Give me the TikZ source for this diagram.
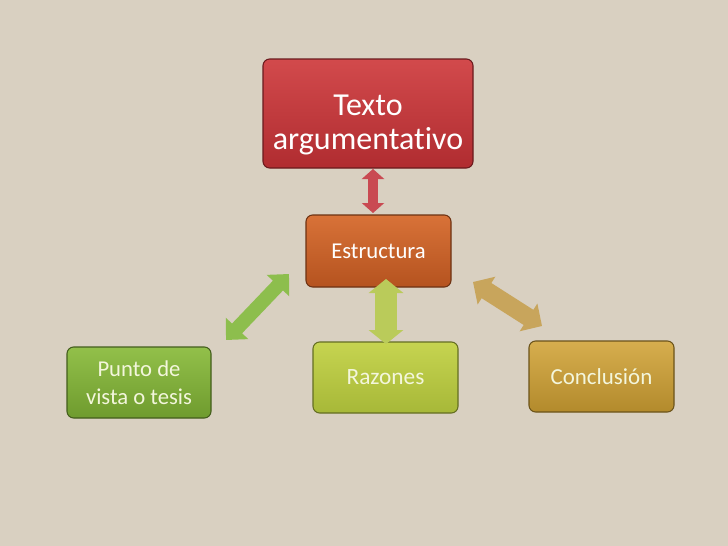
\documentclass[tikz,border=0pt]{standalone}
\usepackage{fontspec}
\setmainfont{Carlito}[Ligatures=NoCommon]
\usetikzlibrary{arrows.meta}
\definecolor{bg}{HTML}{D9D0C1}
\definecolor{redT}{HTML}{D24A4C}\definecolor{redB}{HTML}{B02C30}
\definecolor{orT}{HTML}{D87238}\definecolor{orB}{HTML}{B5531F}
\definecolor{grT}{HTML}{92C04A}\definecolor{grB}{HTML}{6F9B2E}
\definecolor{ygT}{HTML}{C6D450}\definecolor{ygB}{HTML}{A7B838}
\definecolor{gdT}{HTML}{D6AE4E}\definecolor{gdB}{HTML}{B38A2C}
\definecolor{arRed}{HTML}{C94A52}
\definecolor{arGr}{HTML}{8DBE4D}
\definecolor{arYg}{HTML}{BACB5A}
\definecolor{arGd}{HTML}{C8A55C}
\definecolor{paletxt}{HTML}{F3F6DC}
\tikzset{
  box/.style={draw=#1!60!black, line width=0.8pt, rounded corners=5pt, align=center, inner sep=0pt},
}
\begin{document}
\begin{tikzpicture}[x=0.75pt,y=-0.75pt]
\fill[bg] (0,0) rectangle (728,546);
\useasboundingbox (0,0) rectangle (728,546);
% boxes
\node[box=redB, top color=redT, bottom color=redB, minimum width=210*0.75pt, minimum height=109*0.75pt] (texto) at (368,113.5) {};
\node[align=center, text=white, font=\fontsize{24}{25.5}\selectfont, inner sep=0pt] (textolbl) at (368,125) {Texto\\argumentativo};
\node[box=orB, top color=orT, bottom color=orB, minimum width=145*0.75pt, minimum height=72*0.75pt, text=white, font=\fontsize{17}{20}\selectfont] (estr) at (378.5,251) {Estructura};
\node[box=grB, top color=grT, bottom color=grB, minimum width=144*0.75pt, minimum height=71*0.75pt, text=paletxt, font=\fontsize{17}{21}\selectfont] (punto) at (139,382.5) {Punto de\\vista o tesis};
\node[box=ygB, top color=ygT, bottom color=ygB, minimum width=145*0.75pt, minimum height=71*0.75pt, text=paletxt, font=\fontsize{17.5}{21}\selectfont] (raz) at (385.5,377.5) {Razones};
\node[box=gdB, top color=gdT, bottom color=gdB, minimum width=145*0.75pt, minimum height=71*0.75pt, text=paletxt, font=\fontsize{17.2}{21}\selectfont] (concl) at (601.5,376.5) {Conclusión};
% arrow end points
\coordinate (a1) at (373,169); \coordinate (a2) at (373,213);
\coordinate (b1) at (289,274); \coordinate (b2) at (226,340);
\coordinate (c1) at (386,279); \coordinate (c2) at (386,344);
\coordinate (d1) at (473,282); \coordinate (d2) at (542,326);
\draw[arRed, line width=10*0.75pt, {Triangle[width=22*0.75pt,length=10*0.75pt]}-{Triangle[width=22*0.75pt,length=10*0.75pt]}] (a1) -- (a2);
\draw[arGr, line width=14*0.75pt, {Triangle[width=30*0.75pt,length=16*0.75pt]}-{Triangle[width=30*0.75pt,length=16*0.75pt]}] (b1) -- (b2);
\draw[arYg, line width=22*0.75pt, {Triangle[width=34*0.75pt,length=14*0.75pt]}-{Triangle[width=34*0.75pt,length=14*0.75pt]}] (c1) -- (c2);
\draw[arGd, line width=18*0.75pt, {Triangle[width=32*0.75pt,length=16*0.75pt]}-{Triangle[width=32*0.75pt,length=16*0.75pt]}] (d1) -- (d2);
\end{tikzpicture}
\end{document}
